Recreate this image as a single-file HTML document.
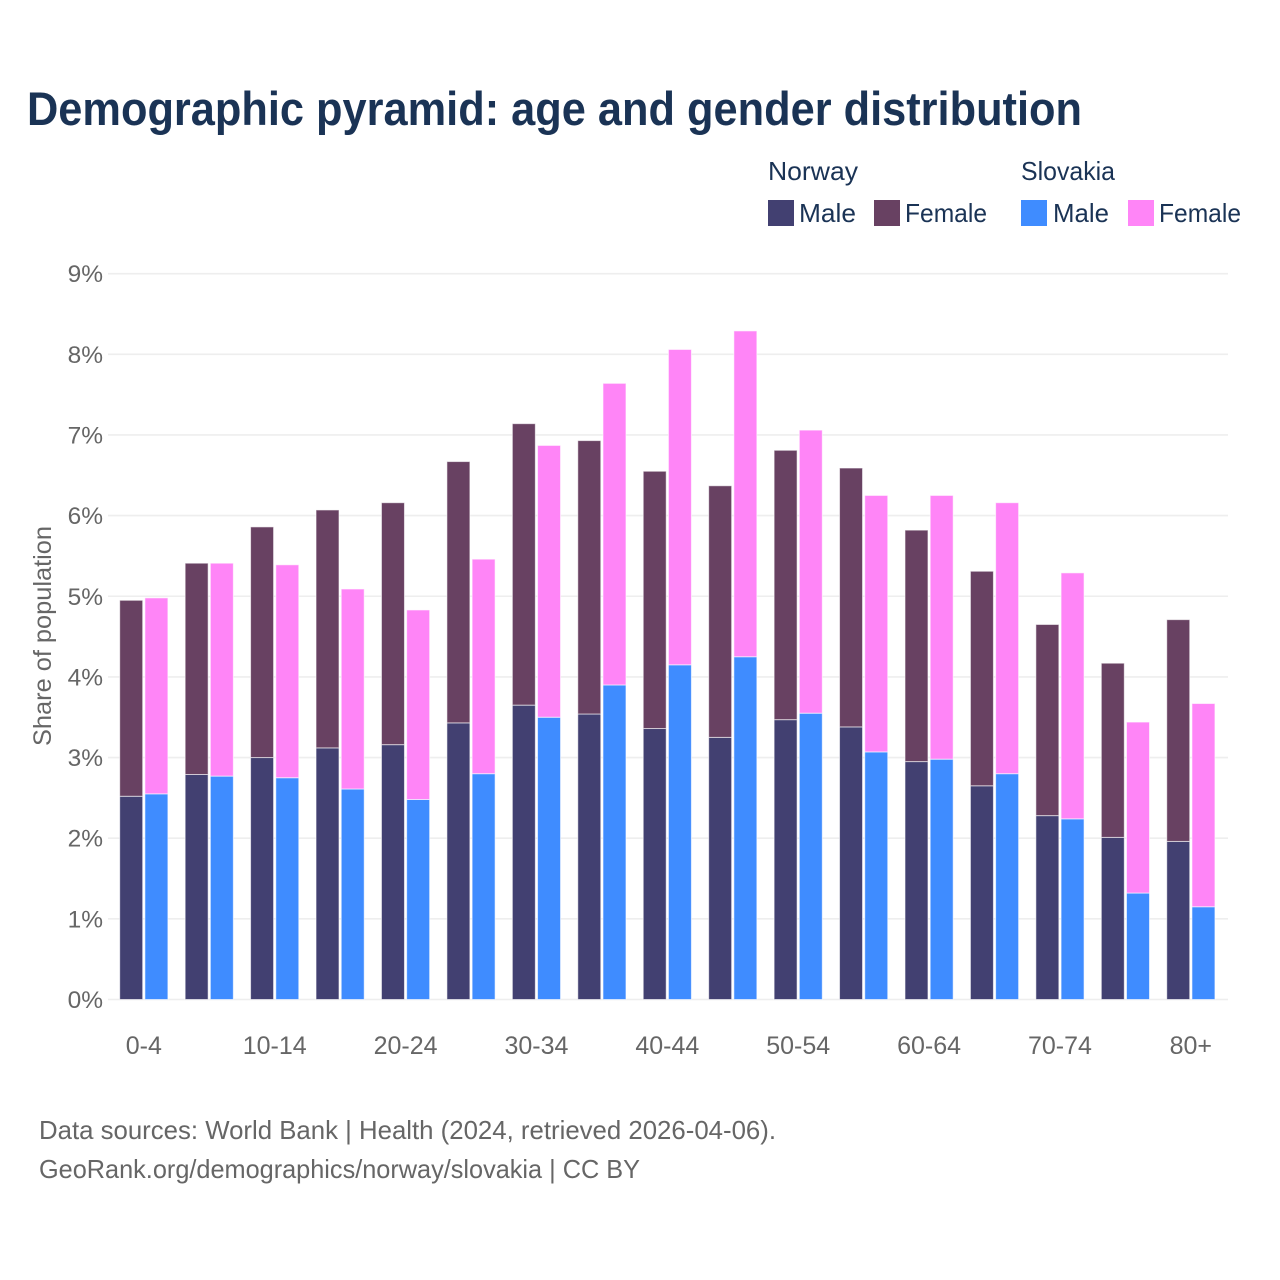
<!DOCTYPE html>
<html lang="en">
<head>
<meta charset="utf-8">
<title>Demographic pyramid: age and gender distribution</title>
<style>
html,body{margin:0;padding:0;background:#fff;}
svg{display:block;font-family:"Liberation Sans",sans-serif;}
</style>
</head>
<body>
<svg id="chart" width="1280" height="1280" viewBox="0 0 1280 1280" xmlns="http://www.w3.org/2000/svg">
  <rect width="1280" height="1280" fill="#ffffff"/>
  <text x="27" y="125" font-size="47" font-weight="700" fill="#1a3355" textLength="1055" lengthAdjust="spacingAndGlyphs">Demographic pyramid: age and gender distribution</text>

  <g font-size="26" fill="#1a3355">
    <text x="768" y="180" textLength="90" lengthAdjust="spacingAndGlyphs">Norway</text>
    <text x="1021" y="180" textLength="94" lengthAdjust="spacingAndGlyphs">Slovakia</text>
    <rect x="768" y="200" width="26" height="26" fill="#424071"/>
    <text x="799" y="222" textLength="57" lengthAdjust="spacingAndGlyphs">Male</text>
    <rect x="874" y="200" width="26" height="26" fill="#684162"/>
    <text x="905" y="222" textLength="82" lengthAdjust="spacingAndGlyphs">Female</text>
    <rect x="1021" y="200" width="26" height="26" fill="#3f8cff"/>
    <text x="1053" y="222" textLength="56" lengthAdjust="spacingAndGlyphs">Male</text>
    <rect x="1128" y="200" width="26" height="26" fill="#ff85f7"/>
    <text x="1159" y="222" textLength="82" lengthAdjust="spacingAndGlyphs">Female</text>
  </g>

  <g id="grid"></g>
  <g id="yticks" font-size="24.5" fill="#666666" text-anchor="end"></g>
  <g id="bars"></g>
  <g id="xticks" font-size="25" fill="#666666" text-anchor="middle"></g>

  <text transform="translate(51,746) rotate(-90)" font-size="25" fill="#666666" textLength="220" lengthAdjust="spacingAndGlyphs">Share of population</text>

  <text x="39" y="1139" font-size="26" fill="#666666" textLength="737" lengthAdjust="spacingAndGlyphs">Data sources: World Bank | Health (2024, retrieved 2026-04-06).</text>
  <text x="39" y="1178" font-size="26" fill="#666666" textLength="601" lengthAdjust="spacingAndGlyphs">GeoRank.org/demographics/norway/slovakia | CC BY</text>
</svg>
<script>
const categories = ["0-4","5-9","10-14","15-19","20-24","25-29","30-34","35-39","40-44","45-49","50-54","55-59","60-64","65-69","70-74","75-79","80+"];
const norwayMale = [2.52,2.79,3.00,3.12,3.16,3.43,3.65,3.54,3.36,3.25,3.47,3.38,2.95,2.65,2.28,2.01,1.96];
const norwayFemale = [2.43,2.62,2.86,2.95,3.00,3.24,3.49,3.39,3.19,3.12,3.34,3.21,2.87,2.66,2.37,2.16,2.75];
const slovakiaMale = [2.55,2.77,2.75,2.61,2.48,2.80,3.50,3.90,4.15,4.25,3.55,3.07,2.98,2.80,2.24,1.32,1.15];
const slovakiaFemale = [2.43,2.64,2.64,2.48,2.35,2.66,3.37,3.74,3.91,4.04,3.51,3.18,3.27,3.36,3.05,2.12,2.52];
const yTickValues = [0,1,2,3,4,5,6,7,8,9];

const SVG_NS = "http://www.w3.org/2000/svg";
const yZero = 999.5;
const yPerUnit = 80.65;
const xFirst = 143.8;
const xStep = 65.44;
const barWidth = 23;
const barGap = 1.1;

function yScale(v) { return yZero - v * yPerUnit; }
function xCenter(i) { return xFirst + i * xStep; }

const grid = document.getElementById("grid");
const yticks = document.getElementById("yticks");
yTickValues.forEach(function (t) {
  const line = document.createElementNS(SVG_NS, "line");
  line.setAttribute("x1", 108);
  line.setAttribute("x2", 1228);
  line.setAttribute("y1", yScale(t));
  line.setAttribute("y2", yScale(t));
  line.setAttribute("stroke", "#eeeeee");
  line.setAttribute("stroke-width", 1.6);
  
  
  grid.appendChild(line);

  const label = document.createElementNS(SVG_NS, "text");
  label.setAttribute("x", 103);
  label.setAttribute("y", yScale(t) + 8.5);
  label.textContent = t + "%";
  
  
  yticks.appendChild(label);
});

const bars = document.getElementById("bars");
function drawSegment(x, base, value, color) {
  const r = document.createElementNS(SVG_NS, "rect");
  const top = yScale(base + value);
  r.setAttribute("x", x);
  r.setAttribute("y", top);
  r.setAttribute("width", barWidth);
  r.setAttribute("height", yScale(base) - top);
  r.setAttribute("fill", color);
  r.setAttribute("stroke", "#ffffff");
  r.setAttribute("stroke-opacity", "0.6");
  r.setAttribute("stroke-width", 1);
  
  
  bars.appendChild(r);
}
categories.forEach(function (c, i) {
  const cx = xCenter(i);
  const leftX = cx - barGap - barWidth;
  const rightX = cx + barGap;
  drawSegment(leftX, 0, norwayMale[i], "#424071");
  drawSegment(leftX, norwayMale[i], norwayFemale[i], "#684162");
  drawSegment(rightX, 0, slovakiaMale[i], "#3f8cff");
  drawSegment(rightX, slovakiaMale[i], slovakiaFemale[i], "#ff85f7");
});

const xticks = document.getElementById("xticks");
categories.forEach(function (c, i) {
  if (i % 2 !== 0) return;
  const t = document.createElementNS(SVG_NS, "text");
  t.setAttribute("x", xCenter(i));
  t.setAttribute("y", 1054);
  t.textContent = c;
  
  
  xticks.appendChild(t);
});
</script>
</body>
</html>
